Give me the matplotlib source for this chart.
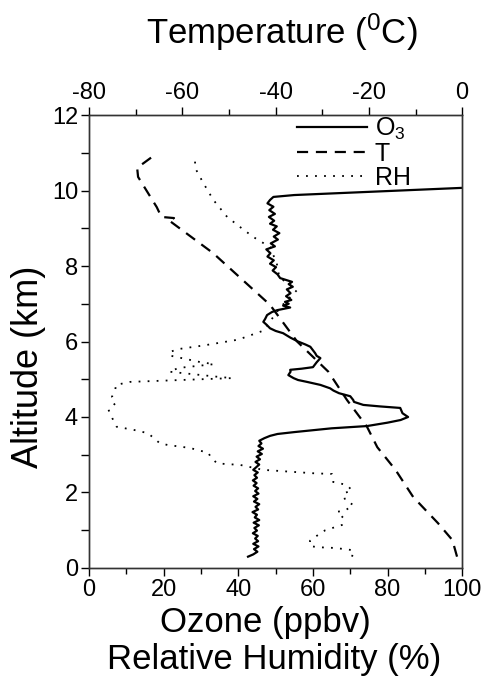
import matplotlib
matplotlib.use("Agg")
import matplotlib.pyplot as plt
from matplotlib.ticker import MultipleLocator

plt.rcParams['font.family'] = ['Liberation Sans', 'DejaVu Sans']
plt.rcParams['mathtext.fontset'] = 'custom'
plt.rcParams['mathtext.rm'] = 'Liberation Sans'
plt.rcParams['mathtext.it'] = 'Liberation Sans'
plt.rcParams['axes.unicode_minus'] = False

# ozone sonde profile (ppbv vs km)
o3_alt = [0.30, 0.36, 0.43, 0.50, 0.57, 0.64, 0.71, 0.78, 0.85, 0.92, 0.99,
          1.06, 1.13, 1.20, 1.27, 1.34, 1.41, 1.48, 1.55, 1.62, 1.69, 1.76,
          1.83, 1.90, 1.97, 2.04, 2.11, 2.18, 2.25, 2.32, 2.39, 2.46, 2.53,
          2.60, 2.67, 2.74, 2.81, 2.88, 2.95, 3.02, 3.09, 3.16, 3.23, 3.30,
          3.37, 3.44, 3.50, 3.55, 3.60, 3.70, 3.76, 3.85, 3.92, 4.00, 4.10,
          4.24, 4.28, 4.32, 4.40, 4.45, 4.55, 4.63, 4.70, 4.76, 4.85, 4.93,
          4.98, 5.03, 5.11, 5.20, 5.25, 5.28, 5.32, 5.45, 5.56, 5.62, 5.69,
          5.86, 5.92, 6.00, 6.10, 6.22, 6.28, 6.35, 6.45, 6.52, 6.60, 6.70,
          6.78, 6.83, 6.90, 6.95, 7.00, 7.05, 7.10, 7.20, 7.28, 7.38, 7.45,
          7.52, 7.58, 7.68, 7.78, 7.88, 7.97, 8.06, 8.15, 8.25, 8.34, 8.44,
          8.52, 8.60, 8.70, 8.78, 8.87, 8.96, 9.05, 9.12, 9.20, 9.30, 9.38,
          9.48, 9.57, 9.66, 9.75, 9.83, 9.88, 10.07]
o3_ppbv = [42.6, 44.0, 45.1, 44.2, 45.4, 44.0, 45.3, 44.5, 45.2, 43.9, 45.0,
           44.3, 45.5, 44.1, 45.6, 44.4, 45.0, 43.8, 45.3, 44.6, 45.6, 44.2,
           45.1, 44.0, 45.4, 44.5, 45.3, 44.1, 44.9, 43.9, 45.0, 44.3, 45.2,
           44.0, 44.8, 45.6, 44.6, 45.8, 44.9, 46.3, 45.2, 46.6, 45.4, 46.2,
           45.6, 47.0, 48.5, 50.5, 55.0, 65.0, 74.5, 80.0, 83.5, 85.5, 84.0,
           83.4, 78.0, 73.5, 71.0, 70.8, 70.0, 67.0, 65.5, 64.6, 62.0, 58.4,
           56.0, 54.8, 53.4, 54.0, 53.9, 57.0, 60.0, 61.0, 62.0, 61.0, 60.6,
           59.3, 58.0, 56.0, 54.0, 52.0, 50.0, 48.5, 47.5, 46.7, 47.2, 47.7,
           49.0, 50.4, 53.9, 52.0, 53.5, 52.5, 54.2, 52.8, 54.0, 53.0, 54.6,
           53.5, 54.4, 51.2, 50.5, 49.2, 50.1, 48.5, 49.5, 47.8, 48.6, 47.5,
           49.8, 48.7, 50.6, 49.5, 51.0, 49.3, 50.3, 48.5, 49.6, 48.2, 49.8,
           48.3, 49.4, 47.8, 48.5, 49.4, 55.0, 100.0]

# temperature profile (deg C vs km)
t_alt = [0.30, 0.74, 1.19, 1.88, 2.60, 3.20, 3.74, 4.45, 5.20, 6.00, 6.97,
         8.34, 9.22, 9.27, 9.30, 9.56, 10.36, 10.60, 10.99]
t_degc = [-1.1, -2.1, -5.2, -10.5, -14.3, -18.2, -20.4, -24.7, -28.7, -35.4,
          -41.2, -53.4, -63.0, -61.8, -64.5, -65.5, -69.5, -69.7, -65.4]

# relative humidity profile (% vs km)
rh_alt = [0.30, 0.47, 0.53, 0.55, 0.58, 0.72, 0.85, 1.00, 1.14, 1.32, 1.49,
          1.52, 1.67, 1.80, 1.98, 2.05, 2.20, 2.28, 2.49, 2.51, 2.60, 2.73,
          2.77, 2.95, 3.05, 3.18, 3.26, 3.30, 3.57, 3.66, 3.74, 3.97, 4.19,
          4.36, 4.53, 4.72, 4.85, 4.93, 5.03, 5.07, 5.20, 5.30, 5.40, 5.45,
          5.62, 5.72, 5.80, 5.90, 6.05, 6.28, 6.40, 6.60, 6.90, 7.36, 7.70,
          8.07, 8.50, 8.77, 9.03, 9.30, 9.75, 10.20, 10.60, 10.90]
rh_pct = [70.5, 70.8, 66.0, 61.4, 59.2, 59.2, 61.0, 63.3, 67.8, 68.2, 66.5,
          68.6, 70.8, 68.6, 68.2, 70.5, 69.1, 65.4, 65.1, 60.0, 46.6, 40.5,
          34.3, 32.5, 32.0, 27.0, 21.0, 19.0, 15.8, 11.9, 7.4, 6.2, 5.2,
          7.0, 6.1, 7.0, 7.2, 11.0, 38.3, 34.0, 21.5, 24.0, 33.5, 30.0,
          22.0, 21.5, 24.0, 31.0, 40.0, 46.5, 47.5, 49.0, 51.2, 55.7, 51.0,
          50.3, 48.5, 44.0, 40.5, 37.0, 33.3, 30.6, 28.4, 28.4]

fig = plt.figure(figsize=(4.87, 6.83), dpi=100)
ax = fig.add_axes([0.183, 0.1684, 0.766, 0.6632])

l1, = ax.plot(o3_ppbv, o3_alt, color='black', lw=1.6, ls='-')
l3, = ax.plot(rh_pct, rh_alt, color='black', lw=1.3, ls=(0, (1, 4)))

ax.set_xlim(0, 100)
ax.set_ylim(0, 12)
ax.xaxis.set_major_locator(MultipleLocator(20))
ax.xaxis.set_minor_locator(MultipleLocator(10))
ax.yaxis.set_major_locator(MultipleLocator(2))
ax.yaxis.set_minor_locator(MultipleLocator(1))
ax.tick_params(which='both', direction='out', labelsize=17, width=1.0)
ax.tick_params(which='major', length=6)
ax.tick_params(which='minor', length=4)
ax.tick_params(axis='y', which='minor', length=6)
ax.tick_params(axis='y', pad=2)
ax.tick_params(axis='x', pad=2)

ax2 = ax.twiny()
l2, = ax2.plot(t_degc, t_alt, color='black', lw=1.6, ls=(0, (5, 3.5)))
ax2.set_xlim(-80, 0)
ax2.xaxis.set_major_locator(MultipleLocator(20))
ax2.xaxis.set_minor_locator(MultipleLocator(10))
ax2.tick_params(which='both', direction='out', labelsize=17, width=1.0)
ax2.tick_params(which='major', length=6)
ax2.tick_params(which='minor', length=4)
ax2.tick_params(axis='x', pad=2)

for a in (ax, ax2):
    for s in a.spines.values():
        s.set_linewidth(1.0)
        s.set_color('#333333')

ax2.legend([l1, l2, l3], ['O$_3$', 'T', 'RH'], loc='upper right',
           bbox_to_anchor=(0.862, 0.998), frameon=False, fontsize=18,
           handlelength=2.8, handletextpad=0.3, labelspacing=0.0,
           borderaxespad=0.0, borderpad=0.0)

fig.text(0.578, 0.953, 'Temperature ($^0$C)', ha='center', va='center', fontsize=25)
fig.text(0.545, 0.088, 'Ozone (ppbv)', ha='center', va='center', fontsize=25)
fig.text(0.562, 0.034, 'Relative Humidity (%)', ha='center', va='center', fontsize=25)
fig.text(0.058, 0.463, 'Altitude (km)', ha='center', va='center', fontsize=26,
         rotation=90)

fig.savefig('out.png', dpi=100)
